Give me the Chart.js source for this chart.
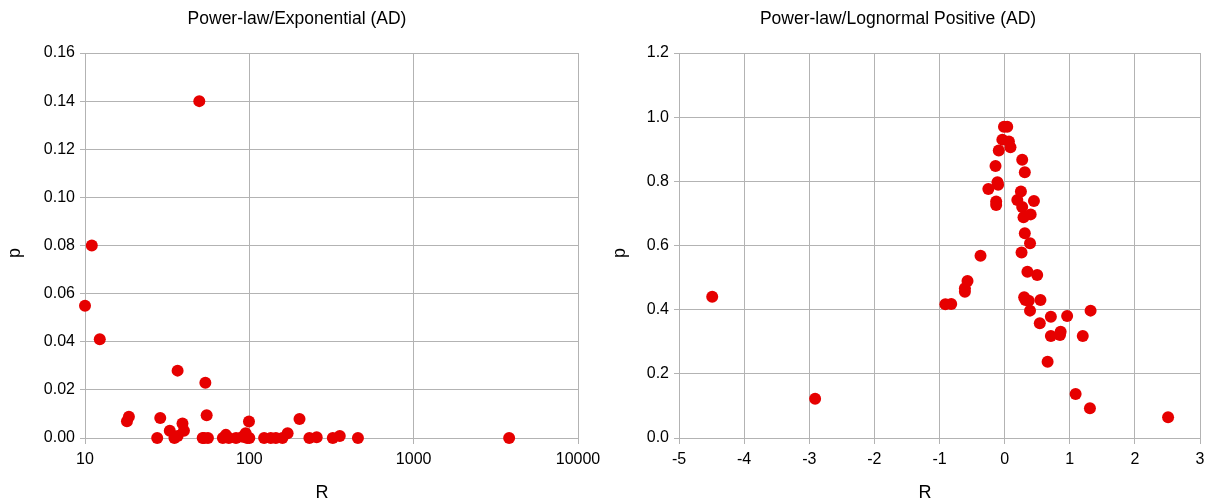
<!DOCTYPE html>
<html>
<head>
<meta charset="utf-8">
<script src="https://cdn.jsdelivr.net/npm/chart.js@4.4.1/dist/chart.umd.min.js"></script>
<style>
  html, body { margin: 0; padding: 0; background: #ffffff; }
  #wrap { position: relative; width: 1206px; height: 503px; }
  .box { position: absolute; top: 0; width: 603px; height: 503px; }
  #b1 { left: 0; }
  #b2 { left: 603px; }
</style>
</head>
<body>
<div id="wrap">
  <div class="box" id="b1"><canvas id="c1" width="603" height="503"></canvas></div>
  <div class="box" id="b2"><canvas id="c2" width="603" height="503"></canvas></div>
</div>
<script>
// ---- Data: Power-law/Exponential (AD) ----
const expTitle = "Power-law/Exponential (AD)";
const expR = [10, 11, 12.3, 49.6, 36.6, 54, 55, 18, 18.5, 28.7, 27.5, 32.8, 39.2, 40, 36.6, 35, 53, 56, 52, 72, 69, 83, 91, 95, 97, 100, 99.5, 75, 123, 135, 145, 159, 171, 202, 232, 257, 322, 355, 458, 3810];
const expP = [0.055, 0.080, 0.041, 0.140, 0.028, 0.023, 0.0095, 0.0070, 0.0088, 0.0083, 0, 0.003, 0.006, 0.003, 0.0008, 0, 0, 0, 0, 0.0013, 0, 0, 0.0005, 0.002, 0, 0, 0.0069, 0, 0, 0, 0, 0, 0.002, 0.0079, 0, 0.0003, 0, 0.0008, 0, 0];
const expXTicks = [10, 100, 1000, 10000];

// ---- Data: Power-law/Lognormal Positive (AD) ----
const lnTitle = "Power-law/Lognormal Positive (AD)";
const lnR = [-4.49, -2.91, 2.51, -0.01, 0.04, -0.035, 0.066, 0.09, -0.09, -0.14, 0.27, 0.31, -0.11, -0.10, -0.25, 0.25, 0.195, 0.45, -0.13, -0.13, 0.27, 0.40, 0.29, 0.31, 0.39, -0.37, 0.26, 0.35, 0.50, -0.57, -0.61, -0.61, -0.91, -0.82, 0.30, 0.37, 0.55, 0.32, 0.39, 0.71, 0.96, 1.32, 0.54, 0.71, 0.85, 0.86, 1.20, 0.66, 1.09, 1.31];
const lnP = [0.44, 0.122, 0.065, 0.97, 0.97, 0.93, 0.924, 0.906, 0.896, 0.848, 0.867, 0.828, 0.797, 0.789, 0.776, 0.768, 0.742, 0.739, 0.737, 0.726, 0.72, 0.697, 0.688, 0.638, 0.607, 0.568, 0.578, 0.518, 0.508, 0.489, 0.467, 0.456, 0.417, 0.418, 0.439, 0.428, 0.43, 0.43, 0.397, 0.378, 0.38, 0.397, 0.358, 0.318, 0.321, 0.331, 0.318, 0.238, 0.137, 0.093];

const xLabel = "R";
const yLabel = "p";

const GRID = '#b3b3b3';
const RED = '#e60000';
const FONT = "'Liberation Sans', Arial, sans-serif";

const textPlugin = {
  id: 'chartTexts',
  afterDraw(chart, args, opts) {
    const ctx = chart.ctx;
    ctx.save();
    ctx.fillStyle = '#000000';
    ctx.textAlign = 'center';
    ctx.textBaseline = 'middle';
    ctx.font = opts.titleSize + 'px ' + FONT;
    ctx.fillText(opts.title, opts.titlePos[0], opts.titlePos[1]);
    ctx.font = opts.size + 'px ' + FONT;
    ctx.fillText(opts.xText, opts.xPos[0], opts.xPos[1]);
    ctx.translate(opts.yPos[0], opts.yPos[1]);
    ctx.rotate(-Math.PI / 2);
    ctx.fillText(opts.yText, 0, 0);
    ctx.restore();
  }
};

function pts(xs, ys) { return xs.map((x, i) => ({ x: x, y: ys[i] })); }

function fitX(s) { s.height = 65; s.paddingLeft = 0; s.paddingRight = 0; }

function makeChart(id, cfg) {
  return new Chart(document.getElementById(id), {
    type: 'scatter',
    data: {
      datasets: [{
        data: pts(cfg.xs, cfg.ys),
        backgroundColor: RED,
        borderColor: RED,
        borderWidth: 0,
        pointRadius: 6,
        pointHoverRadius: 6,
        clip: false
      }]
    },
    plugins: [textPlugin],
    options: {
      responsive: false,
      animation: false,
      events: [],
      layout: { padding: { left: 0, right: cfg.padRight, top: 53, bottom: 0 } },
      plugins: {
        legend: { display: false },
        tooltip: { enabled: false },
        title: { display: false },
        chartTexts: {
          title: cfg.title, titleSize: 17.5, titlePos: cfg.titlePos,
          xText: xLabel, yText: yLabel, size: 18,
          xPos: cfg.xTitlePos, yPos: cfg.yTitlePos
        }
      },
      scales: {
        x: cfg.xScale,
        y: cfg.yScale
      }
    }
  });
}

const tickFont = { family: FONT, size: 16 };

// Left chart
makeChart('c1', {
  xs: expR, ys: expP, title: expTitle, padRight: 25,
  titlePos: [297, 19],
  xTitlePos: [322, 493], yTitlePos: [15, 253],
  xScale: {
    type: 'logarithmic',
    min: 10, max: 10000,
    afterBuildTicks: (s) => { s.ticks = expXTicks.map(v => ({ value: v })); },
    afterFit: fitX,
    grid: { color: GRID, lineWidth: 1, tickLength: 6, drawTicks: true, tickColor: GRID },
    border: { color: GRID, width: 1 },
    ticks: { color: '#000000', font: tickFont, padding: 6, maxRotation: 0, autoSkip: false,
      callback: (v) => String(v) }
  },
  yScale: {
    type: 'linear',
    min: 0, max: 0.16,
    afterFit: (s) => { s.width = 85; },
    grid: { color: GRID, lineWidth: 1, tickLength: 5, drawTicks: true, tickColor: GRID },
    border: { color: GRID, width: 1 },
    ticks: { color: '#000000', font: tickFont, padding: 5, stepSize: 0.02,
      callback: (v) => Number(v).toFixed(2) }
  }
});

// Right chart
makeChart('c2', {
  xs: lnR, ys: lnP, title: lnTitle, padRight: 6,
  titlePos: [295, 19],
  xTitlePos: [322, 493], yTitlePos: [17, 253],
  xScale: {
    type: 'linear',
    min: -5, max: 3,
    afterFit: fitX,
    grid: { color: GRID, lineWidth: 1, tickLength: 6, drawTicks: true, tickColor: GRID },
    border: { color: GRID, width: 1 },
    ticks: { color: '#000000', font: tickFont, padding: 6, stepSize: 1, maxRotation: 0, autoSkip: false,
      callback: (v) => String(v) }
  },
  yScale: {
    type: 'linear',
    min: 0, max: 1.2,
    afterFit: (s) => { s.width = 76; },
    grid: { color: GRID, lineWidth: 1, tickLength: 5, drawTicks: true, tickColor: GRID },
    border: { color: GRID, width: 1 },
    ticks: { color: '#000000', font: tickFont, padding: 5, stepSize: 0.2,
      callback: (v) => Number(v).toFixed(1) }
  }
});
</script>
</body>
</html>
